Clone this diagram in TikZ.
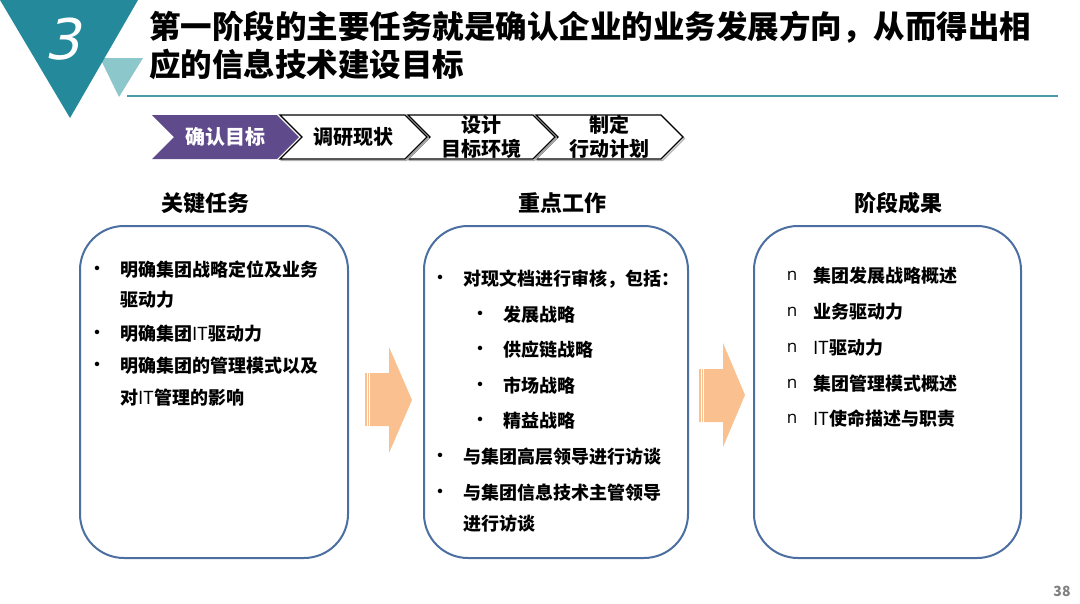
\documentclass[tikz,border=0pt]{standalone}
\usepackage{fontspec}
\setmainfont{Noto Sans CJK SC}
\newfontfamily\numfont{DejaVu Sans}[FakeSlant=0.22]
\newfontfamily\nfont{Open Sans}
\definecolor{tealA}{HTML}{23899B}
\definecolor{tealB}{HTML}{8CC7CB}
\definecolor{tealL}{HTML}{4A9BA8}
\definecolor{purp}{HTML}{5F4B8B}
\definecolor{orng}{HTML}{FAC08F}
\definecolor{boxc}{HTML}{4A6FA0}
\tikzset{
  ttl/.style={anchor=west,inner sep=0pt,font=\bfseries\fontsize{31.5}{34}\selectfont},
  chtxt/.style={align=center,inner sep=0pt,font=\bfseries\fontsize{20}{24}\selectfont},
  head/.style={inner sep=0pt,font=\bfseries\fontsize{22}{26}\selectfont},
  itm/.style={anchor=west,inner sep=0pt,font=\bfseries\fontsize{18}{22}\selectfont},
  bul/.style={inner sep=0pt,font=\bfseries\fontsize{16}{20}\selectfont},
  nbul/.style={inner sep=0pt,font=\nfont\fontsize{17}{20}\selectfont},
  roundbox/.style={draw=boxc,line width=2pt,rounded corners=44pt},
  chevw/.style={fill=white,draw=black,line width=1.4pt,line join=miter},
}
\begin{document}
\begin{tikzpicture}[x=1pt,y=-1pt]
\useasboundingbox (0,0) rectangle (1080,603);
\fill[white] (0,0) rectangle (1080,603);
% corner triangles
\fill[tealB] (100,58) -- (143,58) -- (119,97) -- cycle;
\fill[tealA] (0,0) -- (138,0) -- (70,118) -- cycle;
\node[text=white,inner sep=0pt,font=\numfont\fontsize{56}{60}\selectfont] (num) at (62,39) {3};
% title
\node[ttl] (t1) at (149,27) {第一阶段的主要任务就是确认企业的业务发展方向，从而得出相};
\node[ttl] (t2) at (149,64) {应的信息技术建设目标};
\draw[tealL,line width=1.2pt] (127,96) -- (1058,96);
% chevrons
\foreach \l in {536,408,280}{
  \draw[gray!60,line width=1.2pt] (\l+1.5,116.5) -- ++(125,0) -- ++(22,22) -- ++(-22,22) -- ++(-125,0) -- ++(22,-22) -- cycle;
  \draw[chevw] (\l,115) -- ++(125,0) -- ++(22,22) -- ++(-22,22) -- ++(-125,0) -- ++(22,-22) -- cycle;
}
\fill[purp] (152,115) -- ++(125,0) -- ++(22,22) -- ++(-22,22) -- ++(-125,0) -- ++(22,-22) -- cycle;
\node[chtxt,text=white] (c1) at (225,137) {确认目标};
\node[chtxt] (c2) at (353,137) {调研现状};
\node[chtxt] (c3) at (481,137) {设计\\目标环境};
\node[chtxt] (c4) at (609,137) {制定\\行动计划};
% headings
\node[head] (h1) at (205,203) {关键任务};
\node[head] (h2) at (562,203) {重点工作};
\node[head] (h3) at (898,203) {阶段成果};
% boxes
\draw[roundbox] (80,226) rectangle (348,558);
\draw[roundbox] (424,226) rectangle (688,558);
\draw[roundbox] (754,226) rectangle (1021,558);
% arrows
\fill[orng] (365,373) rectangle (366.5,426);
\fill[orng] (367.5,373) rectangle (369,426);
\fill[orng] (370,373) -- (389,373) -- (389,347) -- (412,400) -- (389,453) -- (389,426) -- (370,426) -- cycle;
\fill[orng] (699,369) rectangle (700.5,422);
\fill[orng] (701.5,369) rectangle (703,422);
\fill[orng] (704,369) -- (723,369) -- (723,343) -- (745,395) -- (723,447) -- (723,422) -- (704,422) -- cycle;
% box 1
\node[bul] (b1a) at (97,270) {•};
\node[itm] (i1a) at (120,270) {明确集团战略定位及业务};
\node[itm] (i1b) at (120,300) {驱动力};
\node[bul] (b1c) at (97,334) {•};
\node[itm] (i1c) at (120,334) {明确集团{\mdseries IT}驱动力};
\node[bul] (b1d) at (97,366) {•};
\node[itm] (i1d) at (120,366) {明确集团的管理模式以及};
\node[itm] (i1e) at (120,398) {对{\mdseries IT}管理的影响};
% box 2
\node[bul] (b2a) at (440,279) {•};
\node[itm] (i2a) at (463,279) {对现文档进行审核，包括：};
\node[bul] (b2b) at (480,315) {•};
\node[itm] (i2b) at (503,315) {发展战略};
\node[bul] (b2c) at (480,350) {•};
\node[itm] (i2c) at (503,350) {供应链战略};
\node[bul] (b2d) at (480,386) {•};
\node[itm] (i2d) at (503,386) {市场战略};
\node[bul] (b2e) at (480,421) {•};
\node[itm] (i2e) at (503,421) {精益战略};
\node[bul] (b2f) at (440,457) {•};
\node[itm] (i2f) at (463,457) {与集团高层领导进行访谈};
\node[bul] (b2g) at (440,493) {•};
\node[itm] (i2g) at (463,493) {与集团信息技术主管领导};
\node[itm] (i2h) at (463,524) {进行访谈};
% box 3
\node[nbul] (b3a) at (792,276) {n};
\node[itm] (i3a) at (813,276) {集团发展战略概述};
\node[nbul] (b3b) at (792,312) {n};
\node[itm] (i3b) at (813,312) {业务驱动力};
\node[nbul] (b3c) at (792,348) {n};
\node[itm] (i3c) at (813,348) {{\mdseries IT}驱动力};
\node[nbul] (b3d) at (792,384) {n};
\node[itm] (i3d) at (813,384) {集团管理模式概述};
\node[nbul] (b3e) at (792,419) {n};
\node[itm] (i3e) at (813,419) {{\mdseries IT}使命描述与职责};
% page number
\node[inner sep=0pt,text=gray,font=\bfseries\fontsize{14}{16}\selectfont] (pg) at (1062,591) {38};
\end{tikzpicture}
\end{document}
